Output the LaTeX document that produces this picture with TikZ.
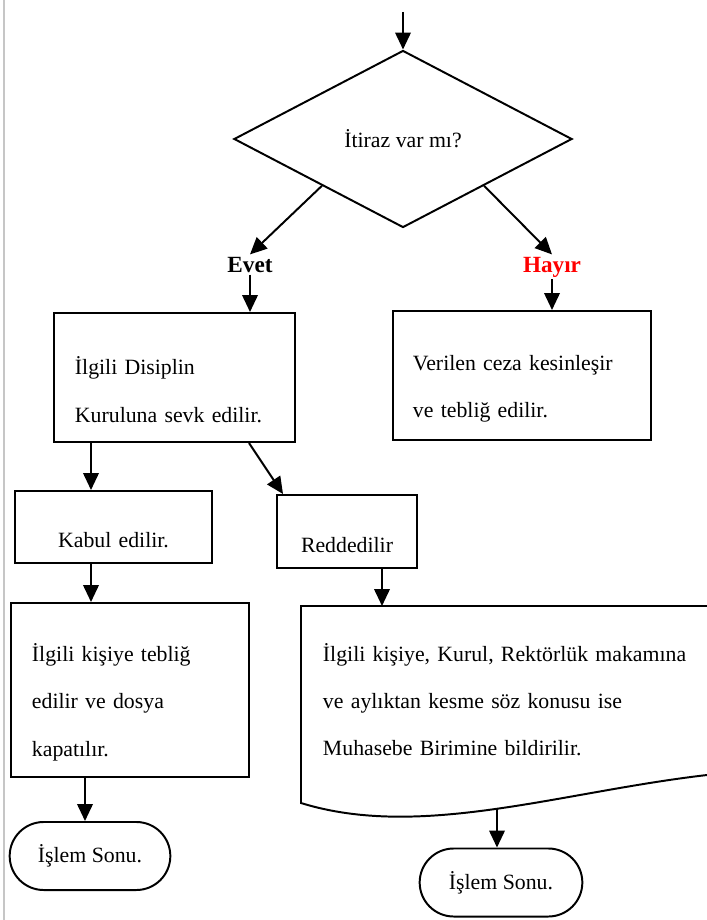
\documentclass[tikz,border=0pt]{standalone}
\usepackage{fontspec}
\setmainfont{Liberation Serif}
\usetikzlibrary{shapes.geometric,shapes.misc,arrows.meta}

\begin{document}
\begin{tikzpicture}[x=0.025cm, y=-0.025cm, line width=1.4pt,
    font=\fontsize{15.5}{33.7}\selectfont,
    ok/.style={-{Triangle[width=11pt,length=12pt]}},
    kutu/.style={draw, rectangle, inner xsep=0.525cm, inner ysep=0pt,
      execute at begin node={\rule{0pt}{30pt}}},
    karar/.style={draw, diamond, inner sep=0pt, minimum width=8.45cm, minimum height=4.425cm},
    son/.style={draw, rounded rectangle, minimum height=1.7cm},
    secim/.style={font=\fontsize{16.5}{19}\selectfont\bfseries, inner sep=1pt, anchor=base}]
  \useasboundingbox (0,0) rectangle (707,920);
  \draw[gray!45, line width=1pt] (4,0) -- (4,920);

  \coordinate (giris) at (403,12);
  \node[karar] (itiraz) at (403,139) {İtiraz var mı?};
  \node[secim] (evet) at (250,272) {Evet};
  \node[secim, text=red] (hayir) at (552,272) {Hayır};

  \node[kutu, text width=4.975cm, minimum height=3.225cm, align=left] (kurul) at (174.5,377.5) {İlgili Disiplin\\Kuruluna sevk edilir.};
  \node[kutu, text width=5.45cm, inner xsep=0.5cm, minimum height=3.225cm, align=left] (ceza) at (522,375.5) {Verilen ceza kesinleşir\\ve tebliğ edilir.};
  \node[kutu, text width=3.925cm, inner xsep=0.5cm, minimum height=1.8cm, align=center] (kabul) at (113.5,527) {Kabul edilir.};
  \node[kutu, text width=2.5cm, inner xsep=0.5cm, minimum height=1.825cm, align=center] (red) at (347,531.5) {Reddedilir};
  \node[kutu, text width=4.9cm, minimum height=4.35cm, align=left] (teblig) at (130,690) {İlgili kişiye tebliğ\\edilir ve dosya\\kapatılır.};
  \node[anchor=base west, inner sep=0pt, text width=9.9cm, align=left] (bildir) at (322,661) {İlgili kişiye, Kurul, Rektörlük makamına\\ve aylıktan kesme söz konusu ise\\Muhasebe Birimine bildirilir.};
  \node[son, minimum width=4.25cm] (son1) at (90,856) {İşlem Sonu.};
  \node[son, minimum width=4.3cm] (son2) at (501,882.5) {İşlem Sonu.};

  \coordinate (k1) at (91,0);
  \coordinate (k2) at (85,0);
  \coordinate (k3) at (249,0);
  \coordinate (k4) at (283,0);
  \coordinate (retust) at (382,606);
  \coordinate (retalt) at (497,808);
  \draw (707,606) -- (301,606) -- (301,803) .. controls (420,840) and (560,792) .. (707,775);

  \draw[ok] (giris) -- (itiraz.north);
  \draw[ok] (itiraz.-150) -- (evet.north);
  \draw[ok] (itiraz.-30) -- (hayir.north);
  \draw[ok] (evet.south) -- (evet.south |- kurul.north);
  \draw[ok] (hayir.south) -- (hayir.south |- ceza.north);
  \draw[ok] (kurul.south -| k1) -- (kabul.north -| k1);
  \draw[ok] (kurul.south -| k3) -- (red.north -| k4);
  \draw[ok] (kabul.south -| k1) -- (teblig.north -| k1);
  \draw[ok] (teblig.south -| k2) -- (son1.north -| k2);
  \draw[ok] (red.south -| retust) -- (retust);
  \draw[ok] (retalt) -- (retalt |- son2.north);
\end{tikzpicture}
\end{document}
